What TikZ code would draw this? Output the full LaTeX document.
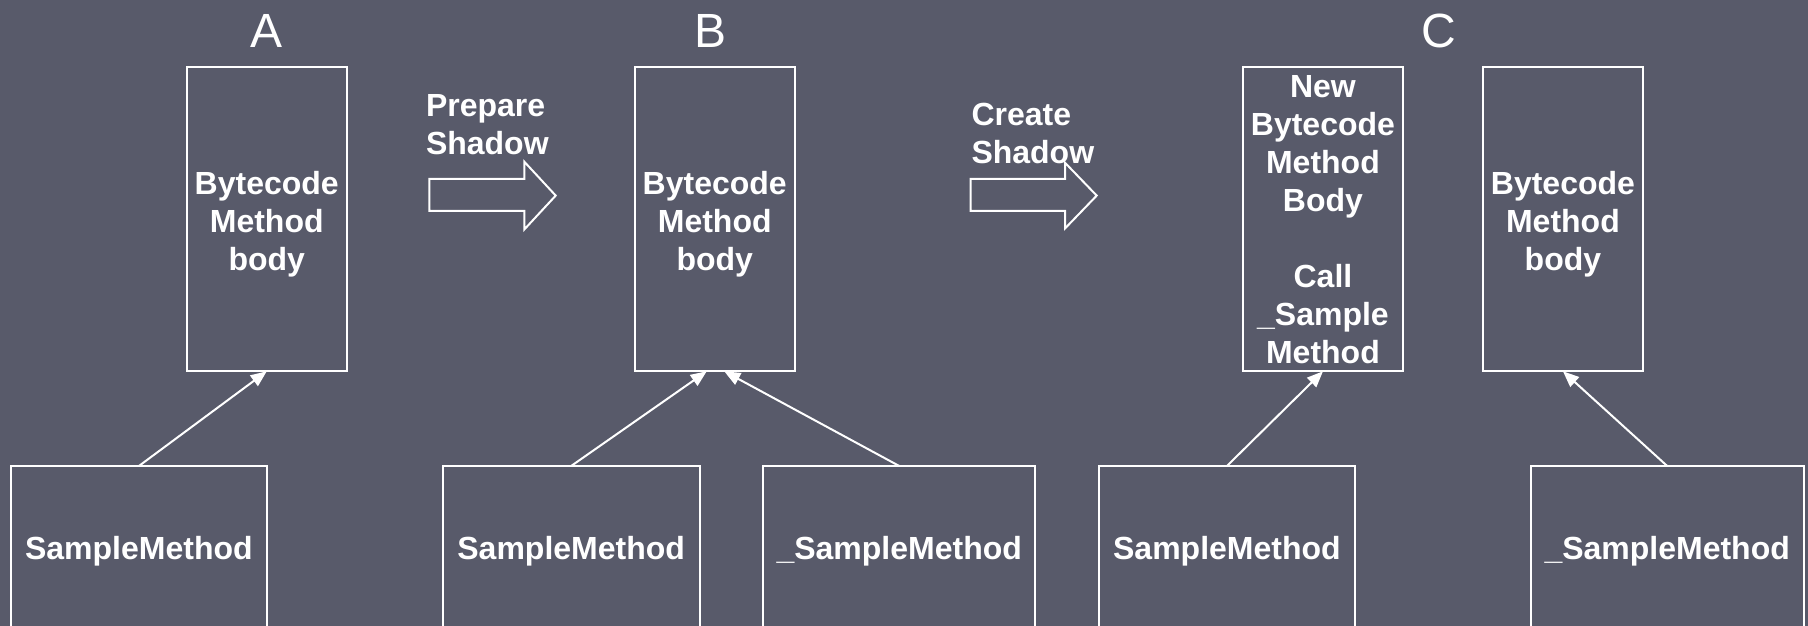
\documentclass[tikz,border=0pt]{standalone}
\usepackage{fontspec}
\setmainfont{Liberation Sans}
\usetikzlibrary{arrows.meta}
\definecolor{bg}{RGB}{88,90,106}
\begin{document}
\begin{tikzpicture}[x=1pt,y=-1pt,
  every node/.style={text=white,inner sep=0pt,outer sep=0pt},
  box/.style={draw=white,line width=2pt,minimum width=160.5pt,minimum height=304.6pt,anchor=north west},
  lowbox/.style={draw=white,line width=2pt,minimum height=171pt,anchor=north west,
     font=\fontsize{32}{38}\selectfont\bfseries},
  txt/.style={align=center,font=\fontsize{32}{38}\selectfont\bfseries},
  lbl/.style={align=left,anchor=west,font=\fontsize{32}{37.5}\selectfont\bfseries},
  head/.style={font=\fontsize{48}{48}\selectfont,anchor=base},
  conn/.style={draw=white,line width=2pt,-{Triangle[length=16pt,width=13pt]}},
  blockarrow/.style={draw=white,line width=2pt,line join=miter}]
\fill[bg] (0,0) rectangle (1808,626);
\useasboundingbox (0,0) rectangle (1808,626);
\clip (0,0) rectangle (1808,626);

% column headings
\node[head] (hA) at (267,48) {A};
\node[head] (hB) at (711,48) {B};
\node[head] (hC) at (1439,48) {C};

% top boxes
\node[box] (ba) at (186.5,66.7) {};
\node[txt] (ta) at ([yshift=-5.5pt]ba.center) {Bytecode\\Method\\body};
\node[box] (bb) at (634.5,66.7) {};
\node[txt] (tb) at ([yshift=-5.5pt]bb.center) {Bytecode\\Method\\body};
\node[box] (bc1) at (1242.7,66.7) {};
\node[txt] (tc1) at ([yshift=-1pt]bc1.center) {New\\Bytecode\\Method\\Body\\[38pt]Call\\\_Sample\\Method};
\node[box] (bc2) at (1482.7,66.7) {};
\node[txt] (tc2) at ([yshift=-5.5pt]bc2.center) {Bytecode\\Method\\body};

% bottom boxes
\node[lowbox,minimum width=256.4pt] (sa) at (10.7,466) {SampleMethod};
\node[lowbox,minimum width=256.7pt] (sb) at (442.8,466) {SampleMethod};
\node[lowbox,minimum width=271.7pt] (usb) at (763.4,466) {\_SampleMethod};
\node[lowbox,minimum width=256.4pt] (sc) at (1098.7,466) {SampleMethod};
\node[lowbox,minimum width=273pt] (usc) at (1530.7,466) {\_SampleMethod};

% connectors
\draw[conn] (sa.north) -- (ba.south);
\draw[conn] (sb.north) -- ([xshift=-8pt]bb.south);
\draw[conn] (usb.north) -- ([xshift=9.5pt]bb.south);
\draw[conn] (sc.north) -- (bc1.south);
\draw[conn] (usc.north) -- (bc2.south);

% step labels and block arrows
\node[lbl] (lp) at (426,124.5) {Prepare\\Shadow};
\draw[blockarrow] (429.4,178.8) -- (524.3,178.8) -- (524.3,161.7) -- (555.7,195.6)
  -- (524.3,229.5) -- (524.3,210.8) -- (429.4,210.8) -- cycle;
\node[lbl] (lc) at (971.5,133.5) {Create\\Shadow};
\draw[blockarrow] (970.5,178.8) -- (1065,178.8) -- (1065,162.7) -- (1096.7,195.6)
  -- (1065,228.5) -- (1065,210.8) -- (970.5,210.8) -- cycle;
\end{tikzpicture}
\end{document}
